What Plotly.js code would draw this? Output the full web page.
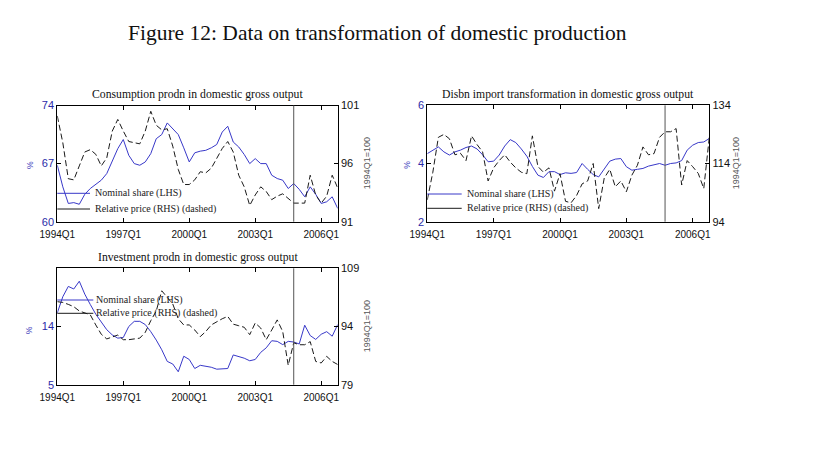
<!DOCTYPE html>
<html>
<head>
<meta charset="utf-8">
<script src="https://cdn.plot.ly/plotly-3.0.1.min.js"></script>
<style>html,body{margin:0;padding:0;background:#fff}#chart{width:818px;height:453px}</style>
</head>
<body>
<div id="chart"></div>
<script>
// ---- categories ----
const startYear = 1994, nQuarters = 52;
const quarters = [];
for (let i = 0; i < nQuarters; i++) quarters.push((startYear + Math.floor(i / 4)) + 'Q' + (i % 4 + 1));
const tickLabels = ['1994Q1', '1997Q1', '2000Q1', '2003Q1', '2006Q1'];
const breakQuarter = '2004Q4';

// ---- series values ----
const consShare = [66.8, 64.2, 62.2, 62.3, 62.1, 63.3, 64.0, 64.5, 65.0, 65.8,
  67.3, 68.8, 69.9, 68.0, 67.0, 66.8, 67.2, 68.2, 70.0, 70.5,
  71.9, 71.2, 70.5, 68.9, 67.2, 68.3, 68.5, 68.6, 68.9, 69.3,
  70.8, 71.5, 69.6, 69.0, 68.1, 67.0, 67.6, 67.0, 67.0, 65.6,
  65.2, 65.0, 64.0, 64.6, 63.9, 63.0, 64.2, 63.3, 62.2, 62.4,
  63.0, 61.6];
const consPrice = [100.1, 97.8, 94.7, 94.6, 95.8, 97.0, 97.2, 96.8, 95.8, 96.5,
  98.8, 99.8, 98.8, 97.9, 97.8, 97.7, 98.8, 100.5, 99.3, 98.9,
  99.0, 97.5, 95.5, 94.2, 94.2, 94.6, 95.3, 95.2, 95.6, 96.5,
  97.3, 97.9, 97.0, 95.0, 94.0, 92.4, 93.3, 94.0, 93.6, 92.9,
  93.2, 93.4, 93.0, 92.6, 92.6, 92.6, 95.0, 93.3, 92.6, 93.2,
  95.0, 93.9];
const disbShare = [4.34, 4.46, 4.57, 4.40, 4.29, 4.40, 4.46, 4.55, 4.60, 4.50,
  4.30, 4.06, 4.08, 4.29, 4.60, 4.82, 4.72, 4.50, 4.25, 3.90,
  3.60, 3.52, 3.72, 3.72, 3.62, 3.68, 3.66, 3.69, 4.00, 3.80,
  3.62, 3.54, 3.80, 4.08, 4.15, 4.17, 3.89, 3.77, 3.80, 3.83,
  3.91, 3.96, 4.00, 3.94, 4.00, 4.02, 4.10, 4.46, 4.63, 4.72,
  4.74, 4.86];
const disbPrice = [101.5, 111, 123, 124, 122.5, 117, 117.5, 115, 123.5, 120.5,
  118, 108, 112.5, 115, 117, 114.5, 112.5, 111, 110.5, 123.5,
  113, 111, 112.5, 104.5, 110.5, 101, 100.5, 103, 107, 108,
  114, 98.5, 109, 112, 106, 108, 104.3, 110, 113.4, 119.7,
  117, 117.4, 123, 124.9, 124.9, 126, 106.6, 115, 112.9, 110.6,
  105.4, 123];
const invShare = [16.1, 18.6, 20.2, 19.8, 21.0, 19.0, 17.4, 15.9, 14.7, 13.5,
  12.7, 12.2, 12.3, 14.0, 14.8, 14.8, 14.3, 13.2, 11.9, 10.4,
  8.6, 8.2, 7.0, 9.4, 8.9, 7.5, 8.0, 7.9, 7.7, 7.4,
  7.5, 7.5, 9.6, 9.4, 9.1, 8.7, 8.9, 10.0, 10.7, 11.8,
  11.7, 11.2, 11.7, 11.6, 11.3, 14.2, 12.6, 12.0, 12.8, 13.2,
  12.5, 14.3];
const invPrice = [100.4, 100.2, 99.7, 99.1, 98.0, 97.4, 97.0, 94.4, 92.0, 90.8,
  91.2, 91.8, 90.6, 90.6, 90.8, 91.0, 92.5, 95.5, 98.0, 103.2,
  101.5, 99.8, 96.0, 94.4, 94.4, 93.1, 91.4, 92.7, 94.4, 95.3,
  96.0, 96.6, 94.6, 94.2, 93.8, 91.9, 94.9, 93.6, 90.6, 93.1,
  95.7, 92.7, 84.0, 89.8, 89.3, 89.3, 90.1, 85.0, 84.6, 86.3,
  85.0, 84.2];

// ---- text ----
const figTitle = 'Figure 12: Data on transformation of domestic production';
const panelTitles = ['Consumption prodn in domestic gross output',
  'Disbn import transformation in domestic gross output',
  'Investment prodn in domestic gross output'];
const legendNames = ['Nominal share (LHS)', 'Relative price (RHS) (dashed)'];
const leftTitle = '%', rightTitle = '1994Q1=100';
const leftRanges = [[60, 74], [2, 6], [5, 23]];
const leftTicks = [[60, 67, 74], [2, 4, 6], [5, 14]];
const rightRanges = [[91, 101], [94, 134], [79, 109]];
const rightTicks = [[91, 96, 101], [94, 114, 134], [79, 94, 109]];
const shares = [consShare, disbShare, invShare];
const prices = [consPrice, disbPrice, invPrice];

// ---- layout geometry (pixels) ----
const W = 818, H = 453;
const px = v => v / W, py = v => 1 - v / H;
const panels = [
  {l: 57.3, r: 337.7, t: 105.5, b: 221.7, pct: [30, 165], rt: 366.7, leg: [193.3, 209, 90, 93.3]},
  {l: 427.3, r: 709.3, t: 105.3, b: 221.7, pct: [406.7, 165], rt: 736.7, leg: [194, 208.3, 461.7, 465]},
  {l: 57.3, r: 337.7, t: 268.3, b: 384.7, pct: [29.3, 330], rt: 366.7, leg: [300, 313.3, 93.3, 94.3]}
];

const blue = '#3838c8', blueTxt = '#2a2aa8';
const xIdx = quarters.map((q, i) => i);
const tickFont = {family: 'Liberation Sans, Arial, sans-serif', size: 10, color: '#111'};
const serif = 'Liberation Serif, Times New Roman, serif';

const data = [];
const layout = {
  width: W, height: H, margin: {l: 0, r: 0, t: 0, b: 0},
  paper_bgcolor: '#fff', plot_bgcolor: '#fff', showlegend: false,
  annotations: [], shapes: []
};

layout.annotations.push({text: figTitle, xref: 'paper', yref: 'paper', x: px(377), y: py(33),
  xanchor: 'center', yanchor: 'middle', showarrow: false,
  font: {family: serif, size: 21.5, color: '#111'}});

panels.forEach((p, k) => {
  const xa = k === 0 ? 'x' : 'x' + (k + 1);
  const ylName = 'y' + (k === 0 ? '' : 2 * k + 1);
  const yrName = 'y' + (2 * k + 2);
  const xKey = k === 0 ? 'xaxis' : 'xaxis' + (k + 1);
  const ylKey = 'yaxis' + (k === 0 ? '' : 2 * k + 1);
  const yrKey = 'yaxis' + (2 * k + 2);

  data.push({x: xIdx, y: shares[k], type: 'scatter', mode: 'lines', xaxis: xa, yaxis: ylName,
    line: {color: blue, width: 1}, name: legendNames[0], hoverinfo: 'skip'});
  data.push({x: xIdx, y: prices[k], type: 'scatter', mode: 'lines', xaxis: xa, yaxis: yrName,
    line: {color: '#1a1a1a', width: 1, dash: '6px,3px'}, name: legendNames[1], hoverinfo: 'skip'});

  layout[xKey] = {
    domain: [px(p.l), px(p.r)], anchor: ylName, range: [0, nQuarters - 1],
    tickvals: tickLabels.map(t => quarters.indexOf(t)), ticktext: tickLabels,
    ticks: 'inside', ticklen: 4, tickcolor: '#000', showline: true, linecolor: '#000', linewidth: 1,
    mirror: 'ticks', showgrid: false, zeroline: false, tickfont: tickFont, fixedrange: true,
    ticklabelstandoff: 3
  };
  layout[ylKey] = {
    domain: [py(p.b), py(p.t)], anchor: xa, range: leftRanges[k], tickvals: leftTicks[k],
    ticks: 'inside', ticklen: 4, tickcolor: '#000', showline: true, linecolor: '#000', linewidth: 1,
    showgrid: false, zeroline: false, tickfont: Object.assign({}, tickFont, {size: 11, color: blueTxt}),
    fixedrange: true
  };
  layout[yrKey] = {
    overlaying: ylName, anchor: xa, side: 'right', range: rightRanges[k], tickvals: rightTicks[k],
    ticks: 'inside', ticklen: 4, tickcolor: '#000', showline: true, linecolor: '#000', linewidth: 1,
    showgrid: false, zeroline: false, tickfont: Object.assign({}, tickFont, {size: 11}), fixedrange: true
  };

  // break line
  layout.shapes.push({type: 'line', xref: xa, yref: ylName + ' domain',
    x0: quarters.indexOf(breakQuarter), x1: quarters.indexOf(breakQuarter), y0: 0, y1: 1,
    line: {color: '#555', width: 1}});

  // panel title
  layout.annotations.push({text: panelTitles[k], xref: 'paper', yref: 'paper',
    x: px((p.l + p.r) / 2), y: py(p.t - 11), xanchor: 'center', yanchor: 'middle', showarrow: false,
    font: {family: serif, size: 11.7, color: '#111'}});
  // axis titles
  layout.annotations.push({text: leftTitle, xref: 'paper', yref: 'paper', x: px(p.pct[0]),
    y: py(p.pct[1]), xanchor: 'center', yanchor: 'middle', showarrow: false, textangle: -90,
    font: {family: 'Liberation Sans, Arial, sans-serif', size: 8.5, color: '#4a4ac0'}});
  layout.annotations.push({text: rightTitle, xref: 'paper', yref: 'paper', x: px(p.rt),
    y: py((p.t + p.b) / 2), xanchor: 'center', yanchor: 'middle', showarrow: false, textangle: -90,
    font: {family: 'Liberation Sans, Arial, sans-serif', size: 9, color: '#555'}});

  // legend (lines + text)
  const [yb, yk, xe, xt] = p.leg;
  layout.shapes.push({type: 'line', xref: 'paper', yref: 'paper', x0: px(p.l), x1: px(xe),
    y0: py(yb), y1: py(yb), line: {color: blue, width: 1}});
  layout.shapes.push({type: 'line', xref: 'paper', yref: 'paper', x0: px(p.l), x1: px(xe),
    y0: py(yk), y1: py(yk), line: {color: '#1a1a1a', width: 1}});
  [[legendNames[0], yb], [legendNames[1], yk]].forEach(([t, yy]) => {
    layout.annotations.push({text: t, xref: 'paper', yref: 'paper', x: px(xt), y: py(yy),
      xanchor: 'left', yanchor: 'middle', showarrow: false,
      font: {family: serif, size: 10, color: '#222'}});
  });
});

Plotly.newPlot('chart', data, layout, {staticPlot: true, displayModeBar: false});
</script>
</body>
</html>
